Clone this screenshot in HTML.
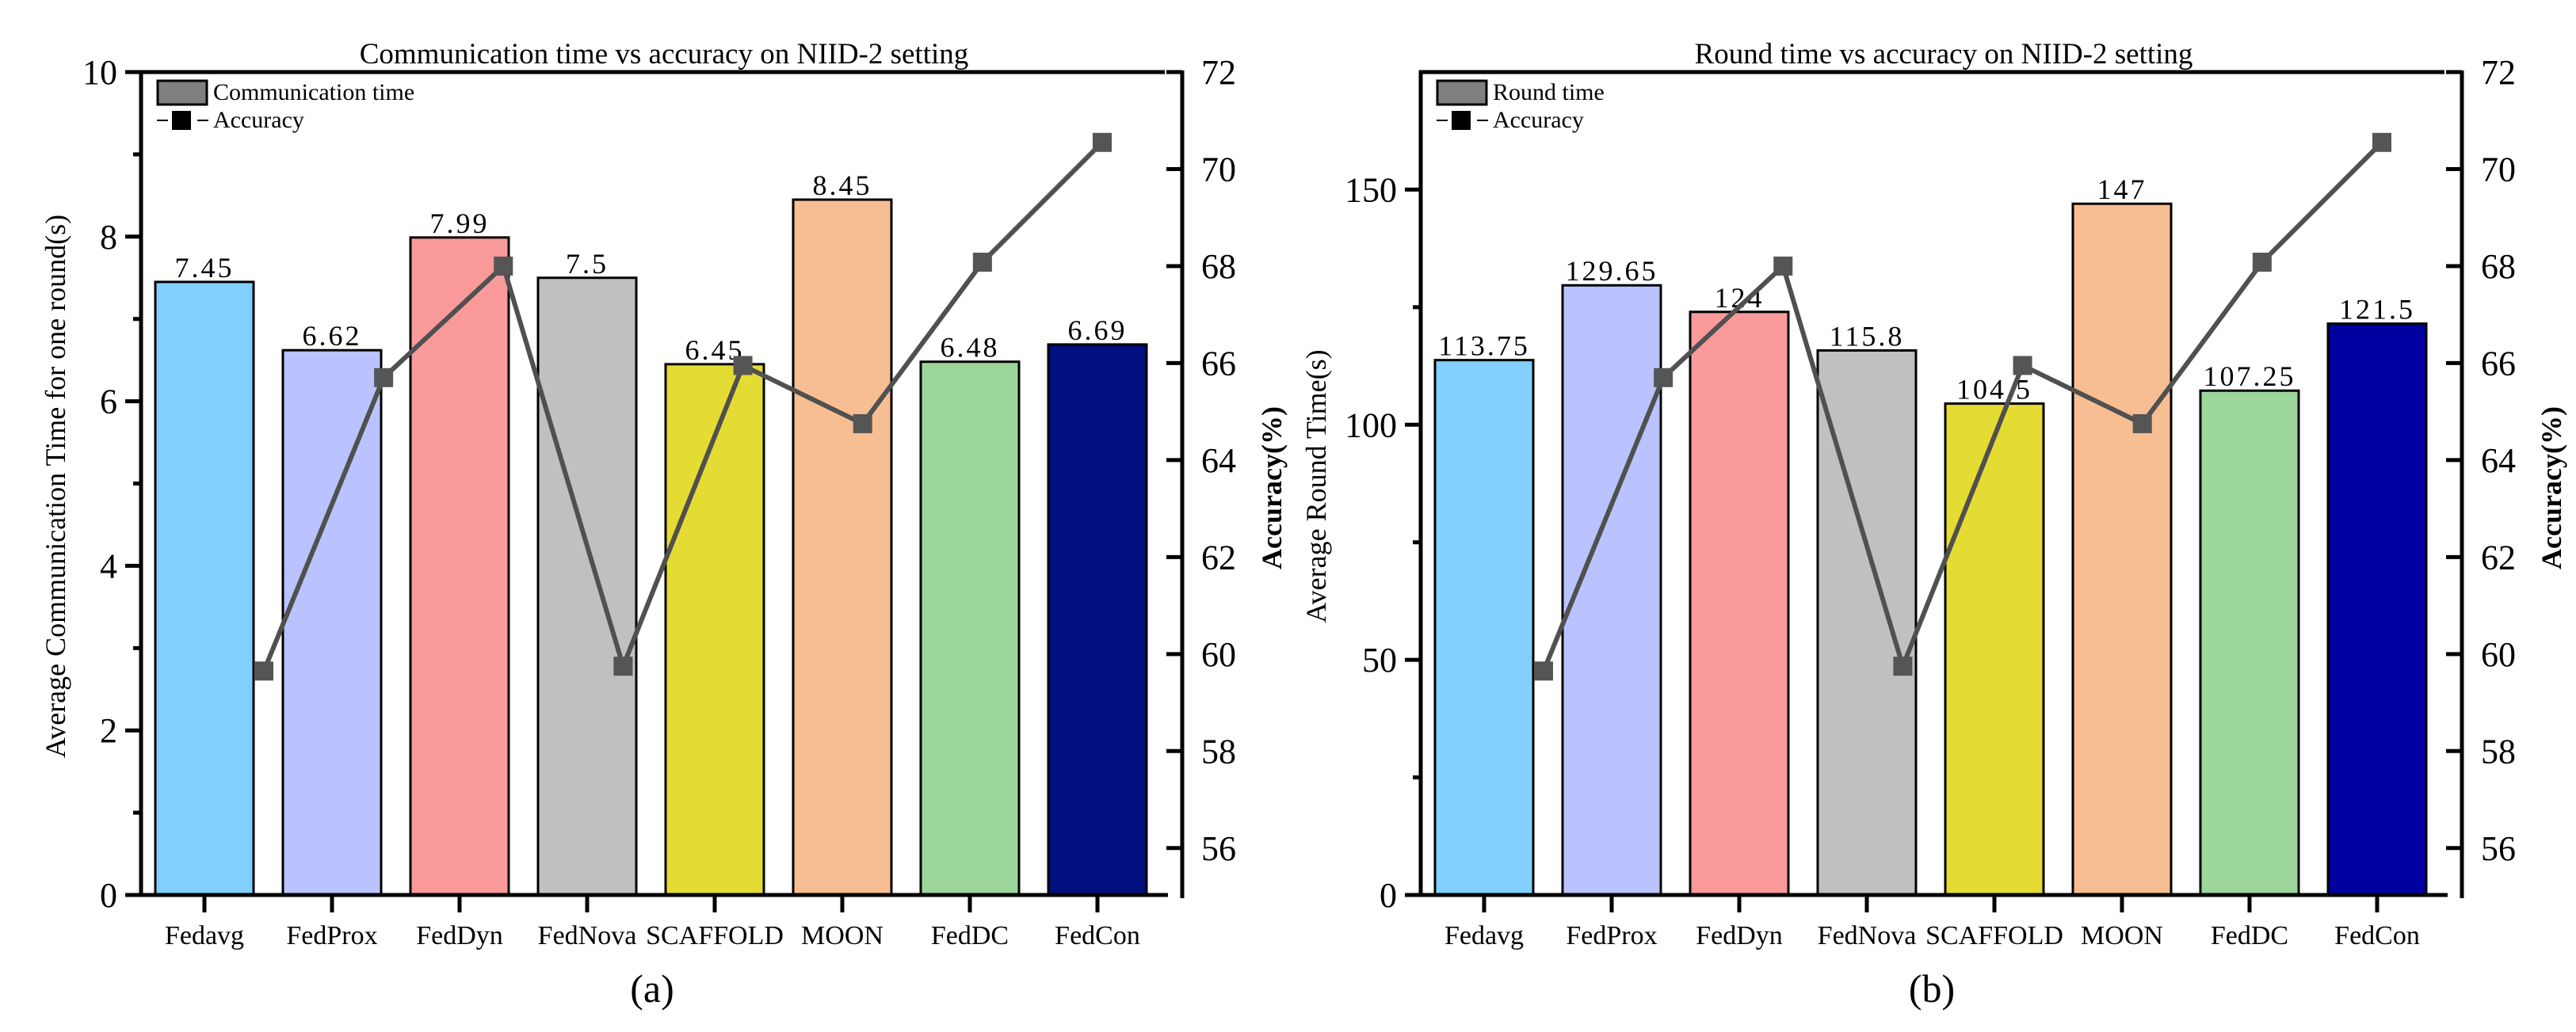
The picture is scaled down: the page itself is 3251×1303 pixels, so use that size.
<!DOCTYPE html>
<html><head><meta charset="utf-8">
<style>
html,body{margin:0;padding:0;background:#fff;}
svg{display:block;}
svg text{font-family:"Liberation Serif","Noto Serif CJK SC",serif;fill:#000;}
</style></head>
<body>
<svg id="chart" width="3251" height="1303" viewBox="0 0 3251 1303" xmlns="http://www.w3.org/2000/svg" font-family="Liberation Serif, serif"></svg>
<script>
const categories = ["Fedavg","FedProx","FedDyn","FedNova","SCAFFOLD","MOON","FedDC","FedCon"];
const commTime = [7.45, 6.62, 7.99, 7.5, 6.45, 8.45, 6.48, 6.69];
const commLabels = ["7.45","6.62","7.99","7.5","6.45","8.45","6.48","6.69"];
const roundTime = [113.75, 129.65, 124, 115.8, 104.5, 147, 107.25, 121.5];
const roundLabels = ["113.75","129.65","124","115.8","104.5","147","107.25","121.5"];
const accuracy = [59.65, 65.7, 68.0, 59.75, 65.95, 64.75, 68.08, 70.55];
const commTicks = [0, 2, 4, 6, 8, 10];
const commMinor = [1, 3, 5, 7, 9];
const roundTicks = [0, 50, 100, 150];
const roundMinor = [25, 75, 125];
const accTicks = [56, 58, 60, 62, 64, 66, 68, 70, 72];
const barColorsA = ["#82CFFF","#BAC3FF","#FA9A9A","#C0C0C0","#E5DC33","#F6BE92","#9DD69B","#000F7D"];
const barColorsB = ["#82CFFF","#BAC3FF","#FA9A9A","#C0C0C0","#E5DC33","#F6BE92","#9DD69B","#0000A0"];

const svg = document.getElementById('chart');
const NS = 'http://www.w3.org/2000/svg';
function mk(tag, attrs, parent, text){
  const e = document.createElementNS(NS, tag);
  for (const k in attrs) e.setAttribute(k, attrs[k]);
  if (tag === 'text') e.setAttribute('font-family', 'Liberation Serif, serif');
  if (text !== undefined) e.textContent = text;
  (parent || svg).appendChild(e);
  return e;
}

function panel(off, p){
  const g = mk('g', {transform: 'translate(' + off + ',0)'});
  
  
  const top = 91, bottom = 1130, axL = 178, axR = 1492, frameR = 1470;
  const yL = v => bottom - (v - p.min) / (p.max - p.min) * (bottom - top);
  const yR = v => bottom + 2 - (v - 55) / (72 - 55) * (bottom + 2 - top);
  const xBar = i => 258 + 161 * i;
  const xLine = i => 333 + (1391 - 333) / (categories.length - 1) * i;

  p.values.forEach((v, i) => {
    const r = mk('rect', {x: xBar(i) - 62, y: yL(v), width: 124, height: bottom - yL(v), fill: p.colors[i], stroke: '#000', 'stroke-width': 3}, g);
    
    
    const t = mk('text', {x: xBar(i), y: yL(v) - 6, 'text-anchor': 'middle', 'font-size': 36, 'letter-spacing': 3}, g, p.labels[i]);
    
    
  });

  const pts = accuracy.map((a, i) => xLine(i) + ',' + yR(a)).join(' ');
  const pl = mk('polyline', {points: pts, fill: 'none', stroke: '#505050', 'stroke-width': 6}, g);
  
  
  accuracy.forEach((a, i) => {
    const m = mk('rect', {x: xLine(i) - 12, y: yR(a) - 12, width: 24, height: 24, fill: '#555555'}, g);
    
    
  });

  const ax = mk('g', {stroke: '#000', 'stroke-width': 5, fill: 'none'}, g);
  
  
  mk('line', {x1: axL, y1: top - 2, x2: axL, y2: bottom + 2}, ax);
  mk('line', {x1: axL - 20, y1: bottom, x2: frameR + 4, y2: bottom}, ax);
  mk('line', {x1: axL - 2, y1: top, x2: frameR, y2: top}, ax);
  mk('line', {x1: axR, y1: top - 2, x2: axR, y2: bottom + 4}, ax);
  p.ticks.forEach(v => {
    mk('line', {x1: axL - 20, y1: yL(v), x2: axL, y2: yL(v)}, ax);
    const t = mk('text', {x: axL - 30, y: yL(v) + 15, 'text-anchor': 'end', 'font-size': 44, stroke: 'none'}, g, String(v));
    
    
  });
  p.minor.forEach(v => mk('line', {x1: axL - 10, y1: yL(v), x2: axL, y2: yL(v)}, ax));
  accTicks.forEach(v => {
    mk('line', {x1: axR - 20, y1: yR(v), x2: axR, y2: yR(v)}, ax);
    const t = mk('text', {x: axR + 24, y: yR(v) + 15, 'font-size': 44, stroke: 'none'}, g, String(v));
    
    
  });
  categories.forEach((c, i) => {
    mk('line', {x1: xBar(i), y1: bottom, x2: xBar(i), y2: bottom + 22}, ax);
    const t = mk('text', {x: xBar(i), y: 1192, 'text-anchor': 'middle', 'font-size': 34}, g, c);
    
    
  });

  const tt = mk('text', {x: 838, y: 80, 'text-anchor': 'middle', 'font-size': 37}, g, p.title);
  
  
  const yt = mk('text', {x: p.ytX, y: 614, 'text-anchor': 'middle', 'font-size': 36, transform: 'rotate(-90 ' + p.ytX + ' 614)'}, g, p.ytitle);
  
  
  const rt = mk('text', {x: 1617, y: 616, 'text-anchor': 'middle', 'font-size': 36, 'font-weight': '600', transform: 'rotate(-90 1617 616)'}, g, 'Accuracy(%)');
  
  
  const sub = mk('text', {x: 823, y: 1265, 'text-anchor': 'middle', 'font-size': 50}, g, p.sub);
  
  

  const lg = mk('g', {}, g);
  
  
  mk('rect', {x: 199, y: 102, width: 62, height: 30, fill: '#808080', stroke: '#000', 'stroke-width': 3}, lg);
  const l1 = mk('text', {x: 269, y: 126, 'font-size': 30}, lg, p.legend);
  
  
  mk('line', {x1: 198, y1: 152, x2: 212, y2: 152, stroke: '#000', 'stroke-width': 2}, lg);
  mk('rect', {x: 217, y: 140, width: 24, height: 24, fill: '#000'}, lg);
  mk('line', {x1: 249, y1: 152, x2: 263, y2: 152, stroke: '#000', 'stroke-width': 2}, lg);
  const l2 = mk('text', {x: 269, y: 161, 'font-size': 30}, lg, 'Accuracy');
  
  
}

panel(0, {name: 'panel-a', values: commTime, labels: commLabels, colors: barColorsA, min: 0, max: 10,
  ticks: commTicks, minor: commMinor, title: 'Communication time vs accuracy on NIID-2 setting',
  ytitle: 'Average Communication Time for one round(s)', ytX: 82, sub: '(a)', legend: 'Communication time'});
panel(1615, {name: 'panel-b', values: roundTime, labels: roundLabels, colors: barColorsB, min: 0, max: 175,
  ticks: roundTicks, minor: roundMinor, title: 'Round time vs accuracy on NIID-2 setting',
  ytitle: 'Average Round Time(s)', ytX: 58, sub: '(b)', legend: 'Round time'});
</script>
</body></html>
